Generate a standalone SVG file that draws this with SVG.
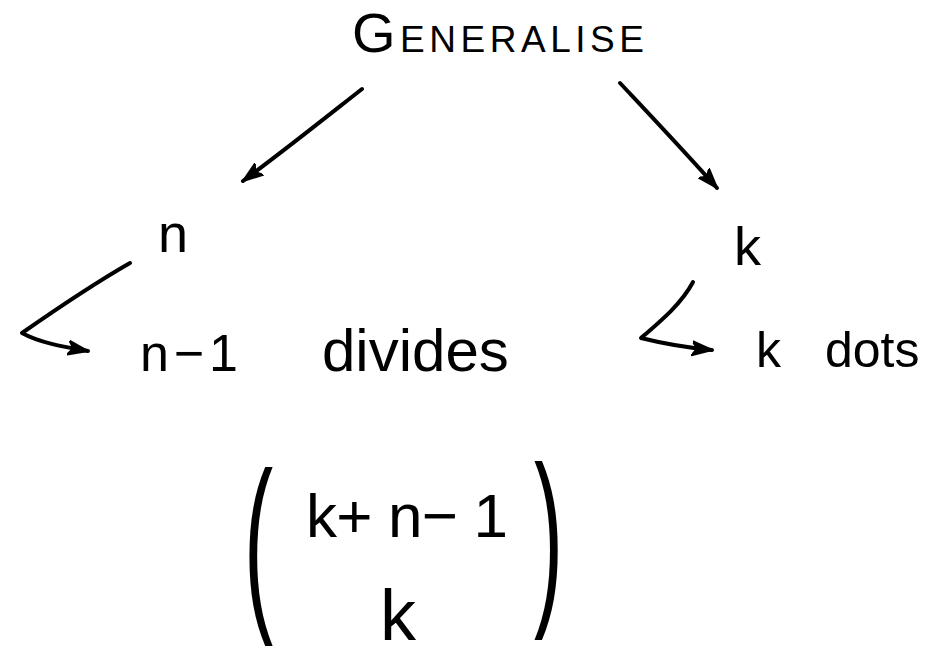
<svg xmlns="http://www.w3.org/2000/svg" width="935" height="655" viewBox="0 0 935 655">
<style>
  .t { font-family: "Liberation Sans", "DejaVu Sans", sans-serif; fill: #000; }
  .c { fill: none; stroke: #000; stroke-width: 4; stroke-linecap: round; stroke-linejoin: round; }
</style>
<defs>
  <marker id="ah" markerUnits="userSpaceOnUse" markerWidth="24" markerHeight="20" refX="20" refY="8" orient="auto">
    <path d="M0,1 L20,8 L0,15 L5,8 Z" fill="#000" stroke="#000" stroke-width="2" stroke-linejoin="round"/>
  </marker>
</defs>
<rect width="935" height="655" fill="#fff"/>

<g id="connectors">
  <path class="c" d="M362,89 C320,122 285,150 243,181" marker-end="url(#ah)"/>
  <path class="c" d="M620,83 C650,115 685,152 717,188" marker-end="url(#ah)"/>
  <path class="c" d="M130,263 C95,283 55,310 22,333 C40,343 65,347 88,351" marker-end="url(#ah)"/>
  <path class="c" d="M693,282 C682,303 662,320 641,338 C665,344 690,348 712,350" marker-end="url(#ah)"/>
</g>

<g id="generalise">
  <text class="t" x="352" y="52" font-size="37" textLength="292" lengthAdjust="spacing"><tspan font-size="56">G</tspan>ENERALISE</text>
</g>

<g id="n">
  <text class="t" x="158" y="252" font-size="54">n</text>
</g>

<g id="k">
  <text class="t" x="734" y="265" font-size="54">k</text>
</g>

<g id="n-minus-1-divides">
  <text class="t" x="140" y="371" font-size="52" textLength="98" lengthAdjust="spacing">n − 1</text>
  <text class="t" x="322" y="371" font-size="60">divides</text>
</g>

<g id="k-dots">
  <text class="t" x="756" y="367" font-size="50">k</text>
  <text class="t" x="825" y="367" font-size="50">dots</text>
</g>

<g id="binomial">
  <text class="t" font-size="70" transform="translate(244,606) scale(1.25,2.72)">(</text>
  <text class="t" font-size="70" transform="translate(534,600) scale(1.25,2.72)">)</text>
  <text class="t" x="306" y="537" font-size="62" textLength="202" lengthAdjust="spacing">k+ n− 1</text>
  <text class="t" x="380" y="640" font-size="72">k</text>
</g>
</svg>
